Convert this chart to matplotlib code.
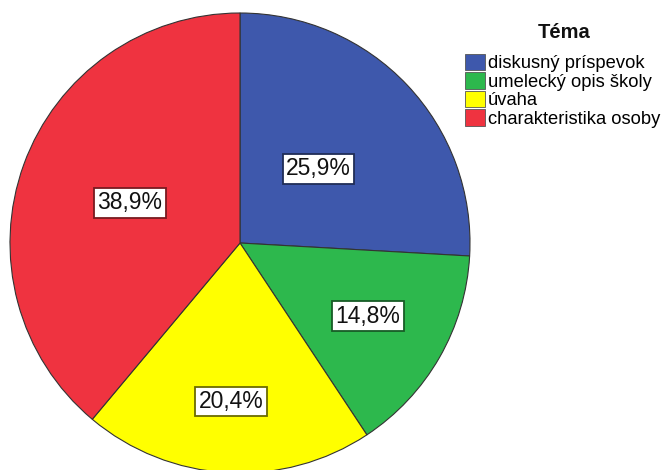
import numpy as np
import matplotlib
matplotlib.use("Agg")
import matplotlib.pyplot as plt

plt.rcParams['font.family'] = ['Liberation Sans', 'DejaVu Sans']

# data
categories = ['diskusný príspevok', 'umelecký opis školy', 'úvaha', 'charakteristika osoby']
percents = [25.9, 14.8, 20.4, 38.9]
labels = ['25,9%', '14,8%', '20,4%', '38,9%']
colors = ['#3e58ac', '#2db84d', '#ffff00', '#ef3340']
edges = ['#1f2c56', '#175c26', '#6b6b00', '#781a20']
label_r = [0.47, 0.64, 0.69, 0.51]   # where SPSS put each box

fig = plt.figure(figsize=(6.66, 4.70), dpi=100)
ax = fig.add_axes([10/666, -3/470, 460/666, 460/470])

wedges, _ = ax.pie(percents, colors=colors, startangle=90, counterclock=False,
                   radius=1, wedgeprops=dict(edgecolor='#333333', linewidth=0.8))
ax.set_xlim(-1, 1)
ax.set_ylim(-1, 1)
ax.set_aspect('auto')
ax.axis('off')

for w, lab, r, ec in zip(wedges, labels, label_r, edges):
    a = np.deg2rad((w.theta1 + w.theta2) / 2)
    ax.text(r*np.cos(a), r*np.sin(a), lab, ha='center', va='center', fontsize=16.5,
            color='#111111',
            bbox=dict(boxstyle='square,pad=0.15', fc='white', ec=ec, lw=1.3))

leg = fig.legend(wedges, categories, loc='upper left',
                 bbox_to_anchor=(465/666, 1 - 54/470), frameon=False,
                 fontsize=13.2, handlelength=1.1, handleheight=1.0,
                 handletextpad=0.15, labelspacing=0.0, borderpad=0, borderaxespad=0)
for h in leg.legend_handles:
    h.set_linewidth(0.6)
    h.set_edgecolor('#555555')

# legend title sits apart from the entries, as in SPSS
fig.text(564/666, 1 - 33/470, 'Téma', ha='center', va='center',
         fontsize=14.5, fontweight='bold', color='#111111')

fig.savefig('out.png', dpi=100)
